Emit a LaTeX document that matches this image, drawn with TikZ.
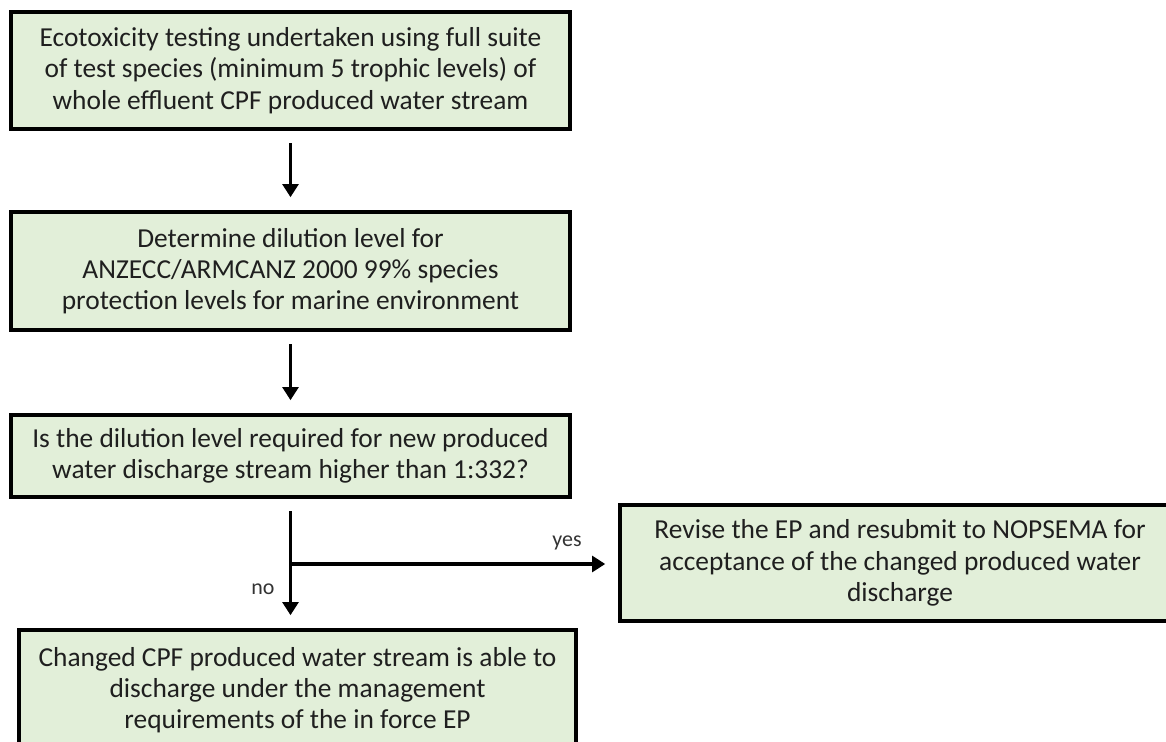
\documentclass[tikz,border=0pt]{standalone}
\usepackage{fontspec}
\setmainfont{Carlito}
\usetikzlibrary{arrows.meta}
\definecolor{boxgreen}{HTML}{E2EFD9}

\begin{document}
\begin{tikzpicture}
[
    x=0.02cm, y=-0.02cm,
    stepbox/.style={draw, line width=2.6pt, fill=boxgreen, align=center, inner sep=0pt,
        font=\fontsize{15.6}{17.8}\selectfont, text=black!88},
    flow/.style={line width=2pt, -{Triangle[width=9pt,length=7.5pt]},
        shorten <=0.24cm, shorten >=0.25cm},
    answer/.style={font=\fontsize{12.5}{14}\selectfont, text=black!80}
]
    \clip (0,0) rectangle (1166,742);
    \node [stepbox, minimum width=11.18cm, minimum height=2.34cm] (testing) at (290.5,70.5)
        {Ecotoxicity testing undertaken using full suite\\
         of test species (minimum 5 trophic levels) of\\
         whole effluent CPF produced water stream};
    \node [stepbox, minimum width=11.18cm, minimum height=2.36cm] (dilution) at (290.5,271)
        {Determine dilution level for\\
         ANZECC/ARMCANZ 2000 99\% species\\
         protection levels for marine environment};
    \node [stepbox, minimum width=11.18cm, minimum height=1.64cm] (question) at (290.5,456)
        {Is the dilution level required for new produced\\
         water discharge stream higher than 1:332?};
    \node [stepbox, minimum width=11.2cm, minimum height=2.32cm] (revise) at (900,563)
        {Revise the EP and resubmit to NOPSEMA for\\
         acceptance of the changed produced water\\
         discharge};
    \node [stepbox, minimum width=11.14cm, minimum height=2.4cm] (discharge) at (297.5,690)
        {Changed CPF produced water stream is able to\\
         discharge under the management\\
         requirements of the in force EP};

    \draw [flow] (testing) -- (dilution);
    \draw [flow] (dilution) -- (question);
    \draw [flow] (question.south) -- (question.south |- discharge.north);
    \coordinate (split) at (290.5,564);
    \draw [flow, shorten <=0pt] (split) -- (split -| revise.west);

    \node [answer] (yes) at (567,543) {yes};
    \node [answer] (no) at (263,589) {no};
\end{tikzpicture}
\end{document}
